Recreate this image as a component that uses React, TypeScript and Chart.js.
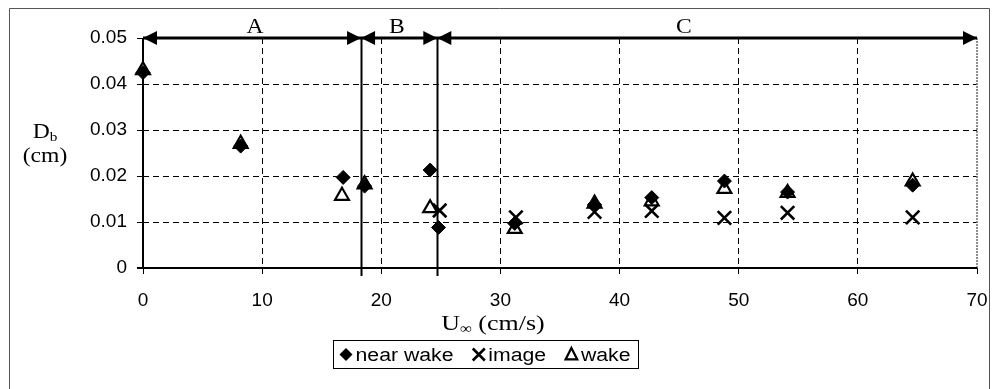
import React, { useEffect, useRef } from 'react';
import { Chart, registerables } from 'chart.js';

Chart.register(...registerables);

// ---- data ----
const seriesNames = ['near wake', 'image', 'wake'];

const nearWakeU = [0, 8.2, 16.8, 18.6, 24.1, 24.8, 31.2, 37.9, 42.7, 48.8, 54.1, 64.6];
const nearWakeD = [0.0425, 0.0265, 0.0197, 0.0178, 0.0213, 0.0088, 0.0097, 0.0138, 0.0153, 0.0189, 0.0165, 0.018];

const imageU = [24.9, 31.3, 37.9, 42.7, 48.8, 54.1, 64.6];
const imageD = [0.0125, 0.011, 0.0122, 0.0124, 0.0109, 0.012, 0.011];

const wakeU = [0, 8.2, 16.7, 18.6, 24.1, 31.2, 37.9, 42.7, 48.8, 54.1, 64.6];
const wakeD = [0.043, 0.027, 0.0157, 0.0182, 0.013, 0.0085, 0.014, 0.0145, 0.0172, 0.0163, 0.0188];

const xTicks = [0, 10, 20, 30, 40, 50, 60, 70];
const yTicks = [0, 0.01, 0.02, 0.03, 0.04, 0.05];
const yTickLabels = ['0', '0.01', '0.02', '0.03', '0.04', '0.05'];

const regionBounds = [0, 18.3, 24.7, 70];
const regionNames = ['A', 'B', 'C'];
const regionLabelAt = [9.4, 21.3, 45.4];
const regionLevel = 0.05;

const toPoints = (xs: number[], ys: number[]) => xs.map((x, i) => ({ x, y: ys[i] }));

const SANS = '"Liberation Sans", Arial, sans-serif';
const SERIF = '"Liberation Serif", "Times New Roman", serif';
const STRETCH = 1.18;

function sText(ctx: CanvasRenderingContext2D, text: string, x: number, y: number, font: string) {
  ctx.save();
  ctx.font = font;
  ctx.textAlign = 'left';
  ctx.translate(x, y);
  ctx.scale(STRETCH, 1);
  ctx.fillText(text, 0, 0);
  ctx.restore();
}
function sWidth(ctx: CanvasRenderingContext2D, text: string, font: string) {
  ctx.save();
  ctx.font = font;
  const w = ctx.measureText(text).width * STRETCH;
  ctx.restore();
  return w;
}

function drawMarker(ctx: CanvasRenderingContext2D, kind: number, x: number, y: number) {
  ctx.save();
  ctx.strokeStyle = '#000';
  ctx.fillStyle = '#000';
  if (kind === 0) {
    const r = 6.5;
    ctx.beginPath();
    ctx.moveTo(x, y - r);
    ctx.lineTo(x + r, y);
    ctx.lineTo(x, y + r);
    ctx.lineTo(x - r, y);
    ctx.closePath();
    ctx.fill();
  } else if (kind === 1) {
    const r = 6;
    ctx.lineWidth = 2.6;
    ctx.beginPath();
    ctx.moveTo(x - r, y - r);
    ctx.lineTo(x + r, y + r);
    ctx.moveTo(x + r, y - r);
    ctx.lineTo(x - r, y + r);
    ctx.stroke();
  } else {
    const r = 6.5;
    ctx.lineWidth = 2.2;
    ctx.beginPath();
    ctx.moveTo(x, y - r);
    ctx.lineTo(x + r * 0.9, y + r * 0.75);
    ctx.lineTo(x - r * 0.9, y + r * 0.75);
    ctx.closePath();
    ctx.stroke();
  }
  ctx.restore();
}

const overlayPlugin = {
  id: 'overlay',
  beforeDatasetsDraw(chart: any) {
    const { ctx, chartArea: a, scales } = chart;
    const xs = scales.x;
    const ys = scales.y;
    ctx.save();
    // plot area right border (grey)
    ctx.strokeStyle = '#6a6a6a';
    ctx.lineWidth = 1.5;
    ctx.setLineDash([2, 1]);
    ctx.beginPath();
    ctx.moveTo(a.right, a.top);
    ctx.lineTo(a.right, a.bottom);
    ctx.stroke();
    ctx.setLineDash([]);

    // axes
    ctx.strokeStyle = '#000';
    ctx.lineWidth = 2;
    ctx.beginPath();
    ctx.moveTo(a.left, a.top);
    ctx.lineTo(a.left, a.bottom);
    ctx.moveTo(a.left - 6, a.bottom);
    ctx.lineTo(a.right, a.bottom);
    ctx.stroke();

    // region separator lines
    const yTop = ys.getPixelForValue(regionLevel);
    ctx.lineWidth = 2;
    for (let i = 1; i < regionBounds.length - 1; i++) {
      const px = Math.round(xs.getPixelForValue(regionBounds[i])) + 0.5;
      ctx.beginPath();
      ctx.moveTo(px, yTop);
      ctx.lineTo(px, a.bottom + 8);
      ctx.stroke();
    }

    // arrow line
    ctx.lineWidth = 3;
    ctx.beginPath();
    ctx.moveTo(xs.getPixelForValue(regionBounds[0]), yTop);
    ctx.lineTo(xs.getPixelForValue(regionBounds[regionBounds.length - 1]), yTop);
    ctx.stroke();

    const head = (tx: number, d: number) => {
      const L = 14;
      const h = 7;
      ctx.beginPath();
      ctx.moveTo(tx, yTop);
      ctx.lineTo(tx - d * L, yTop - h);
      ctx.lineTo(tx - d * L, yTop + h);
      ctx.closePath();
      ctx.fill();
    };
    ctx.fillStyle = '#000';
    for (let i = 0; i < regionNames.length; i++) {
      const x0 = xs.getPixelForValue(regionBounds[i]);
      const x1 = xs.getPixelForValue(regionBounds[i + 1]);
      head(x0, -1);
      head(x1, 1);
    }

    // region labels
    const lf = `20px ${SERIF}`;
    for (let i = 0; i < regionNames.length; i++) {
      const w = sWidth(ctx, regionNames[i], lf);
      sText(ctx, regionNames[i], xs.getPixelForValue(regionLabelAt[i]) - w / 2, yTop - 5, lf);
    }
    ctx.restore();
  },
  afterDraw(chart: any) {
    const { ctx } = chart;
    ctx.save();
    ctx.fillStyle = '#000';
    ctx.textBaseline = 'alphabetic';

    // outer frame (left, top, right)
    ctx.strokeStyle = '#555';
    ctx.lineWidth = 1;
    ctx.beginPath();
    ctx.moveTo(9.5, 389);
    ctx.lineTo(9.5, 8.5);
    ctx.lineTo(989.5, 8.5);
    ctx.lineTo(989.5, 389);
    ctx.stroke();

    // y-axis title: D_b (cm)
    const big = `20px ${SERIF}`;
    const small = `13px ${SERIF}`;
    const dW = sWidth(ctx, 'D', big);
    const bW = sWidth(ctx, 'b', small);
    const cx = 45;
    let sx = cx - (dW + bW) / 2;
    sText(ctx, 'D', sx, 138, big);
    sText(ctx, 'b', sx + dW, 141, small);
    const cmW = sWidth(ctx, '(cm)', big);
    sText(ctx, '(cm)', cx - cmW / 2, 162, big);

    // x-axis title: U∞ (cm/s)
    const xb = `22px ${SERIF}`;
    const xsm = `14px ${SERIF}`;
    const uW = sWidth(ctx, 'U', xb);
    const infW = sWidth(ctx, '\u221E', xsm);
    const restW = sWidth(ctx, ' (cm/s)', xb);
    const tcx = 493;
    sx = tcx - (uW + infW + restW) / 2;
    sText(ctx, 'U', sx, 330, xb);
    sText(ctx, '\u221E', sx + uW, 333, xsm);
    sText(ctx, ' (cm/s)', sx + uW + infW, 330, xb);

    // legend
    const lf = `18px ${SANS}`;
    const markerW = 17;
    const widths = seriesNames.map((n) => sWidth(ctx, n, lf));
    const lx = 333.5;
    const ly = 340.5;
    const lw = 305;
    const lh = 28;
    const padL = 5;
    const padR = 8;
    const content = widths.reduce((s, w) => s + markerW + w, 0);
    const gap = (lw - padL - padR - content) / (seriesNames.length - 1);
    ctx.strokeStyle = '#000';
    ctx.lineWidth = 1;
    ctx.strokeRect(lx, ly, lw, lh);
    let px = lx + padL;
    const my = ly + lh / 2;
    for (let i = 0; i < seriesNames.length; i++) {
      drawMarker(ctx, i, px + 7.5, my);
      sText(ctx, seriesNames[i], px + markerW, my + 6.5, lf);
      px += markerW + widths[i] + gap;
    }
    ctx.restore();
  },
};

export default function App() {
  const ref = useRef<HTMLCanvasElement | null>(null);
  useEffect(() => {
    if (!ref.current) return;
    const gridColor = (hidden: number[]) => (c: any) =>
      c.tick && hidden.some((h) => Math.abs(h - c.tick.value) < 1e-9) ? 'rgba(0,0,0,0)' : '#000';
    const chart = new Chart(ref.current, {
      type: 'scatter',
      data: {
        datasets: [
          {
            label: seriesNames[0],
            data: toPoints(nearWakeU, nearWakeD),
            pointStyle: 'rectRot',
            pointRadius: 7,
            backgroundColor: '#000',
            borderColor: '#000',
            borderWidth: 1,
            order: 0,
            clip: false,
          },
          {
            label: seriesNames[1],
            data: toPoints(imageU, imageD),
            pointStyle: 'crossRot',
            pointRadius: 9.5,
            backgroundColor: '#000',
            borderColor: '#000',
            borderWidth: 2.6,
            order: 1,
            clip: false,
          },
          {
            label: seriesNames[2],
            data: toPoints(wakeU, wakeD),
            pointStyle: 'triangle',
            pointRadius: 8,
            backgroundColor: '#fff',
            borderColor: '#000',
            borderWidth: 2.2,
            order: 2,
            clip: false,
          },
        ],
      },
      options: {
        animation: false,
        responsive: false,
        devicePixelRatio: 1,
        events: [],
        layout: { padding: { top: 38, right: 15, left: 0, bottom: 0 } },
        plugins: { legend: { display: false }, tooltip: { enabled: false }, title: { display: false } },
        scales: {
          x: {
            type: 'linear',
            min: xTicks[0],
            max: xTicks[xTicks.length - 1],
            afterBuildTicks: (s: any) => {
              s.ticks = xTicks.map((v) => ({ value: v }));
            },
            afterFit: (s: any) => {
              s.height = 121;
              s.paddingLeft = 0;
              s.paddingRight = 0;
            },
            ticks: {
              color: '#000',
              font: { family: SANS, size: 19 },
              padding: 15,
              maxRotation: 0,
              autoSkip: false,
            },
            grid: {
              color: gridColor([xTicks[0], xTicks[xTicks.length - 1]]),
              lineWidth: 1,
              tickLength: 6,
              tickColor: '#000',
              tickBorderDash: [],
            },
            border: { display: false, dash: [6, 4] },
          },
          y: {
            type: 'linear',
            min: yTicks[0],
            max: yTicks[yTicks.length - 1],
            afterBuildTicks: (s: any) => {
              s.ticks = yTicks.map((v) => ({ value: v }));
            },
            afterFit: (s: any) => {
              s.width = 143;
              s.paddingTop = 0;
              s.paddingBottom = 0;
            },
            ticks: {
              color: '#000',
              font: { family: SANS, size: 19 },
              padding: 10,
              callback: (v: any) => {
                const i = yTicks.findIndex((t) => Math.abs(t - Number(v)) < 1e-9);
                return i >= 0 ? yTickLabels[i] : '';
              },
            },
            grid: {
              color: gridColor([yTicks[0], yTicks[yTicks.length - 1]]),
              lineWidth: 1,
              tickLength: 6,
              tickColor: '#000',
              tickBorderDash: [],
            },
            border: { display: false, dash: [6, 4] },
          },
        },
      },
      plugins: [overlayPlugin],
    });
    return () => chart.destroy();
  }, []);
  return (
    <div style={{ position: 'fixed', left: 0, top: 0, width: 992, height: 389, background: '#fff' }}>
      <canvas ref={ref} width={992} height={389} style={{ width: 992, height: 389, display: 'block' }} />
    </div>
  );
}
